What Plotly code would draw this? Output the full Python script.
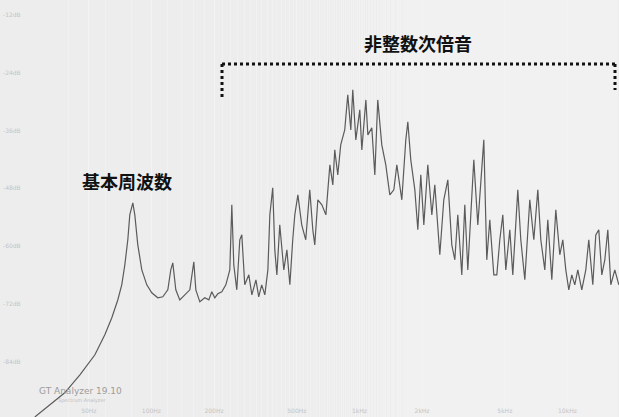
import plotly.graph_objects as go

# Spectrum: frequency (Hz) and level (dB)
freq_hz = [27.5, 32.5, 38.3, 45.3, 53.5, 59.7, 64.5, 68.9, 72.0, 74.5, 77.0, 78.7, 81.4, 83.2, 86.0, 89.9,
           95.0, 100.4, 107.3, 113.4, 119.9, 123.9, 126.7, 131.0, 136.9, 144.7, 153.0, 159.9, 163.5, 170.9,
           180.6, 188.8, 195.1, 201.7, 208.5, 218.0, 227.9, 238.2, 243.5, 248.9, 257.3, 266, 272, 281, 294,
           304, 318, 328, 339, 351, 363, 371, 383, 392, 401, 414, 433, 448, 463, 478, 489, 506, 528, 552,
           577, 597, 610, 631, 660, 690, 721, 745, 761, 787, 813, 850, 879, 909, 929, 961, 1004, 1027,
           1074, 1098, 1147, 1186, 1225, 1281, 1339, 1400, 1464, 1513, 1599, 1671, 1709, 1766, 1847, 1909,
           1973, 2040, 2132, 2229, 2304, 2435, 2545, 2661, 2781, 2875, 2972, 3106, 3211, 3319, 3394, 3548,
           3709, 3834, 3963, 4096, 4235, 4427, 4577, 4731, 4891, 5056, 5285, 5463, 5647, 5774, 5969, 6240,
           6594, 6893, 7206, 7449, 7786, 8048, 8413, 8794, 9192, 9502, 9823, 10154, 10496, 10850, 11218,
           11725, 12258, 12670, 13246, 13691, 14153, 14633, 15128, 15640, 16166, 16899, 17667]
level_db = [-95.5, -92.96, -90.47, -86.73, -82.58, -78.43, -74.9, -71.2, -68.05, -63.9, -58.7, -53.52, -51.03,
            -53.52, -59.75, -64.94, -68.05, -69.71, -70.75, -70.54, -69.09, -64.94, -63.48, -69.09, -71.17,
            -70.13, -69.09, -63.28, -69.09, -71.58, -70.75, -71.17, -69.5, -70.75, -69.92, -69.5, -68.05,
            -64.94, -51.44, -63.9, -69.09, -58.7, -57.67, -68.05, -65.98, -70.13, -67.01, -70.54, -68.05,
            -70.13, -64.94, -53.52, -47.9, -60.8, -65.98, -55.6, -64.94, -60.8, -68.05, -58.7, -53.52,
            -49.37, -55.6, -58.7, -48.33, -56.63, -59.75, -50.4, -51.44, -53.52, -43.14, -47.29, -40.03,
            -45.22, -38.99, -35.87, -28.61, -35.87, -27.57, -37.95, -31.72, -40.03, -29.65, -36.91, -35.46,
            -45.22, -29.65, -38.99, -43.14, -49.37, -48.33, -43.14, -50.4, -37.95, -34.21, -42.1, -48.33,
            -56.63, -45.22, -55.6, -43.14, -53.52, -47.29, -61.82, -50.4, -46.25, -59.75, -62.86, -53.52,
            -65.98, -51.44, -64.94, -56.63, -42.1, -55.6, -47.29, -37.95, -62.86, -54.56, -65.98, -65.98,
            -58.7, -53.52, -64.94, -56.63, -65.98, -53.52, -48.33, -58.7, -67.01, -50.4, -58.7, -48.33,
            -58.7, -64.94, -54.56, -67.01, -52.48, -61.82, -58.7, -64.94, -69.09, -65.98, -68.05, -64.94,
            -69.09, -64.94, -58.7, -68.05, -57.67, -56.63, -65.98, -62.86, -56.63, -68.05, -64.94, -68.05]

x_tick_vals = [50, 100, 200, 500, 1000, 2000, 5000, 10000]
x_tick_text = ["50Hz", "100Hz", "200Hz", "500Hz", "1kHz", "2kHz", "5kHz", "10kHz"]
y_tick_vals = [-12, -24, -36, -48, -60, -72, -84]
y_tick_text = ["-12dB", "-24dB", "-36dB", "-48dB", "-60dB", "-72dB", "-84dB"]

W, H = 619, 417

fig = go.Figure()
fig.add_trace(go.Scatter(x=freq_hz, y=level_db, mode="lines",
                         line=dict(color="#5b5b5b", width=1.2), hoverinfo="skip"))

fig.update_layout(
    width=W, height=H,
    margin=dict(l=0, r=0, t=0, b=0),
    paper_bgcolor="#ededed", plot_bgcolor="#ededed",
    showlegend=False,
    xaxis=dict(type="log", range=[1.272, 4.248], tickvals=x_tick_vals, ticktext=x_tick_text,
               ticklabelposition="inside", tickfont=dict(size=6, color="#c4c4c4", family="DejaVu Sans"),
               showgrid=True, gridcolor="#f3f3f3", gridwidth=1, zeroline=False, showline=False,
               ticks="", minor=dict(showgrid=True, gridcolor="#f1f1f1", gridwidth=1)),
    yaxis=dict(range=[-95.5, -8.9], tickvals=y_tick_vals, ticktext=y_tick_text,
               ticklabelposition="inside", tickfont=dict(size=6, color="#c4c4c4", family="DejaVu Sans"),
               showgrid=False, zeroline=False, showline=False, ticks=""),
)

cjk = "Noto Sans CJK JP"
fig.add_annotation(x=127 / W, y=1 - 181 / H, xref="paper", yref="paper", text="<b>基本周波数</b>",
                   xanchor="center", yanchor="middle",
                   showarrow=False, font=dict(family=cjk, size=18, color="#111111"))
fig.add_annotation(x=418 / W, y=1 - 43 / H, xref="paper", yref="paper", text="<b>非整数次倍音</b>",
                   xanchor="center", yanchor="middle",
                   showarrow=False, font=dict(family=cjk, size=18, color="#111111"))
fig.add_annotation(x=37 / W, y=1 - 391 / H, xref="paper", yref="paper", text="GT Analyzer 19.10",
                   xanchor="left", yanchor="middle",
                   showarrow=False, font=dict(family="DejaVu Sans", size=9, color="#9c9c9c"))
fig.add_annotation(x=56 / W, y=1 - 400 / H, xref="paper", yref="paper", text="Spectrum Analyzer",
                   xanchor="left", yanchor="middle",
                   showarrow=False, font=dict(family="DejaVu Sans", size=5, color="#bdbdbd"))

dot = dict(color="#111111", width=3, dash="dot")
fig.add_shape(type="line", xref="paper", yref="paper", x0=222 / W, x1=615 / W, y0=1 - 64 / H, y1=1 - 64 / H, line=dot)
fig.add_shape(type="line", xref="paper", yref="paper", x0=222 / W, x1=222 / W, y0=1 - 64 / H, y1=1 - 98 / H, line=dot)
fig.add_shape(type="line", xref="paper", yref="paper", x0=615 / W, x1=615 / W, y0=1 - 64 / H, y1=1 - 90 / H, line=dot)

fig.write_html("out.html")
